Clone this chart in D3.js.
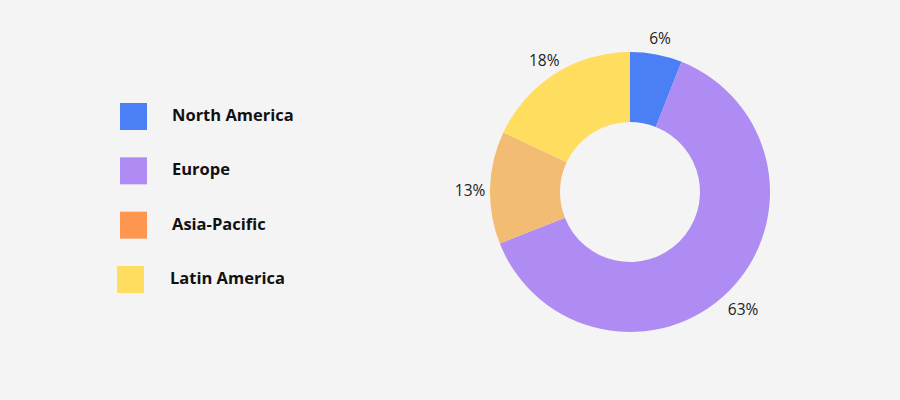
<!DOCTYPE html>
<html>
<head>
<meta charset="utf-8">
<script src="https://cdn.jsdelivr.net/npm/d3@7"></script>
<style>
  html, body { margin: 0; padding: 0; background: #f4f4f4; }
  svg { display: block; }
</style>
</head>
<body>
<svg id="chart" width="900" height="400"></svg>
<script>
const regions = ['North America', 'Europe', 'Asia-Pacific', 'Latin America']
const shares = [6, 63, 13, 18]
const sliceColors = ['#4a7ff5', '#ae8cf4', '#f2bc72', '#ffdd5f']
const legendColors = ['#4a7ff5', '#ae8cf4', '#ff9650', '#ffdd5f']

const width = 900
const height = 400
const cx = 630
const cy = 192
const outerR = 140
const innerR = 70
const labelR = 160

const svg = d3.select('#chart')
  .attr('viewBox', [0, 0, width, height])

svg.append('rect')
  .attr('width', width)
  .attr('height', height)
  .attr('fill', '#f4f4f4')

const data = regions.map((r, i) => ({ region: r, value: shares[i], i }))

const pie = d3.pie()
  .value(d => d.value)
  .sort(null)

const arc = d3.arc()
  .innerRadius(innerR)
  .outerRadius(outerR)

const labelArc = d3.arc()
  .innerRadius(labelR)
  .outerRadius(labelR)

const arcs = pie(data)

const g = svg.append('g')
  .attr('transform', `translate(${cx},${cy})`)

g.selectAll('path')
  .data(arcs)
  .join('path')
  .attr('d', arc)
  .attr('fill', d => sliceColors[d.data.i])

// percentage labels sit a touch below the ring centroid in the original
g.selectAll('text')
  .data(arcs)
  .join('text')
  .attr('transform', d => {
    const [x, y] = labelArc.centroid(d)
    return `translate(${x},${y + 4})`
  })
  .attr('text-anchor', 'middle')
  .attr('dy', '0.35em')
  .attr('font-family', '"Open Sans", sans-serif')
  .attr('font-size', 15.5)
  .attr('fill', '#222')
  .text(d => d.data.value + '%')

// legend
const legendY = d3.scalePoint()
  .domain(regions)
  .range([116, 279])

const legend = svg.append('g')
  .selectAll('g')
  .data(data)
  .join('g')
  .attr('transform', d => `translate(0,${legendY(d.region)})`)

legend.append('rect')
  .attr('x', d => d.i === 3 ? 117 : 120)
  .attr('y', -13)
  .attr('width', 27)
  .attr('height', 27)
  .attr('fill', d => legendColors[d.i])

legend.append('text')
  .attr('x', d => d.i === 3 ? 170 : 172)
  .attr('y', 5)
  .attr('font-family', '"Open Sans", sans-serif')
  .attr('font-weight', 'bold')
  .attr('font-size', 16.5)
  .attr('fill', '#111')
  .text(d => d.region)
</script>
</body>
</html>
